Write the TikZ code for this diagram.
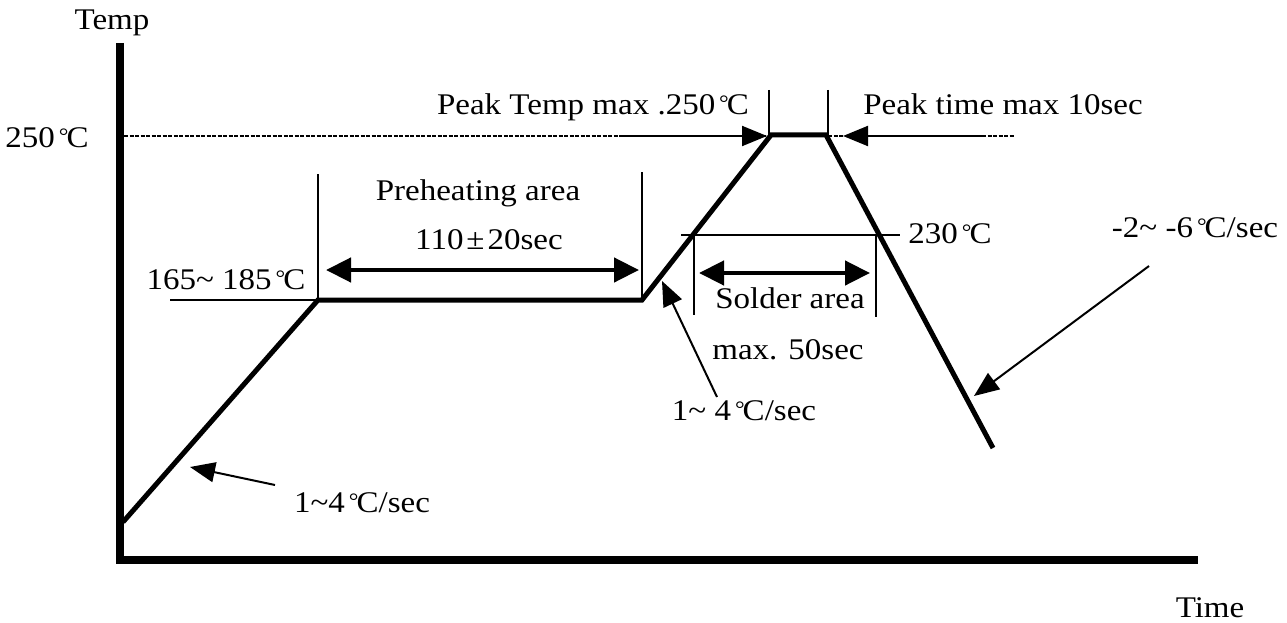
\documentclass[tikz,border=0pt]{standalone}
\usepackage{fontspec}
\setmainfont{Liberation Serif}[FakeStretch=1.1]
\newcommand{\degc}{\kern4pt{\fontsize{22}{24}\selectfont\raisebox{4pt}{°}}\kern-2pt C}
\newcommand{\plusminus}{\kern3pt±\kern3pt}
\newcommand{\tld}{\textasciitilde}
\usetikzlibrary{arrows.meta}
\begin{document}
\begin{tikzpicture}[x=1pt,y=-1pt,
  lbl/.style={inner sep=0pt,anchor=base,font=\fontsize{30}{32}\selectfont},
  axisline/.style={line width=8pt},
  profile/.style={line width=5pt,line join=miter},
  thin/.style={line width=1.6pt},
  pointer/.style={line width=2pt,-{Triangle[length=25pt,width=20pt]}},
  span/.style={line width=4.5pt,{Triangle[length=25pt,width=24pt]}-{Triangle[length=25pt,width=24pt]}},
  dotline/.style={line width=2pt,dash pattern=on 4pt off 1.5pt}]
\useasboundingbox (0,0) rectangle (1287,623);
% axes
\coordinate (origin) at (120,560);
\coordinate (ytop) at (120,43);
\coordinate (xend) at (1198,560);
\draw[axisline] (ytop) -- (120,564);
\draw[axisline] (116,560) -- (xend);
% labels on axes
\node[lbl] (temp) at (112,30) {Temp};
\node[lbl] (time) at (1210,617) {Time};
\node[lbl] (t250) at (47,147) {250\degc};
% dotted 250 line
\coordinate (d0) at (124,136);
\coordinate (d1) at (1014,136);
\draw[dotline] (d0) -- (d1);
% profile
\coordinate (p0) at (123,522);
\coordinate (p1) at (318,300);
\coordinate (p2) at (642,300);
\coordinate (p3) at (771,135);
\coordinate (p4) at (826,135);
\coordinate (p5) at (993,448);
\draw[profile] (p0) -- (p1) -- (p2) -- (p3) -- (p4) -- (p5);
% 165-185 line and label
\coordinate (h0) at (170,300);
\draw[thin] (h0) -- (p1);
\node[lbl] (t165) at (226,289) {165\tld\ 185\degc};
% preheating
\coordinate (pv1) at (318,174);
\coordinate (pv2) at (642,172);
\draw[thin] (pv1) -- (p1);
\draw[thin] (pv2) -- (p2);
\coordinate (pa1) at (326,270);
\coordinate (pa2) at (639,270);
\draw[span] (pa1) -- (pa2);
\node[lbl] (pre) at (478,200) {Preheating area};
\node[lbl] (pre2) at (489,249) {110\plusminus20sec};
% 230 line
\coordinate (s0) at (681,235);
\coordinate (s1) at (900,235);
\draw[thin] (s0) -- (s1);
\node[lbl] (t230) at (950,243) {230\degc};
% solder area
\coordinate (sv1a) at (694,235);
\coordinate (sv1b) at (694,315);
\coordinate (sv2a) at (876,235);
\coordinate (sv2b) at (876,317);
\draw[thin] (sv1a) -- (sv1b);
\draw[thin] (sv2a) -- (sv2b);
\coordinate (sa1) at (699,273);
\coordinate (sa2) at (870,273);
\draw[span] (sa1) -- (sa2);
\node[lbl] (sold) at (790,308) {Solder area};
\node[lbl] (sold2) at (788,359) {max. 50sec};
% peak
\coordinate (pk1a) at (769,90);
\coordinate (pk2a) at (828,90);
\draw[thin] (pk1a) -- (769,135);
\draw[thin] (pk2a) -- (828,135);
\coordinate (ka) at (620,136);
\coordinate (kb) at (767,136);
\draw[pointer] (ka) -- (kb);
\coordinate (kc) at (984,136);
\coordinate (kd) at (843,136);
\draw[pointer] (kc) -- (kd);
\node[lbl] (peakt) at (593,115) {Peak Temp max .250\degc};
\node[lbl] (peakm) at (1003,115) {Peak time max 10sec};
% slope labels
\node[lbl] (r1) at (362,512) {1\tld4\degc/sec};
\coordinate (r1s) at (275,485);
\coordinate (r1t) at (190,467);
\draw[pointer] (r1s) -- (r1t);
\node[lbl] (r2) at (744,420) {1\tld\ 4\degc/sec};
\coordinate (r2s) at (717,397);
\coordinate (r2t) at (662,281);
\draw[pointer] (r2s) -- (r2t);
\node[lbl] (r3) at (1195,237) {-2\tld\ -6\degc/sec};
\coordinate (r3s) at (1149,266);
\coordinate (r3t) at (974,396);
\draw[pointer] (r3s) -- (r3t);
\end{tikzpicture}
\end{document}
